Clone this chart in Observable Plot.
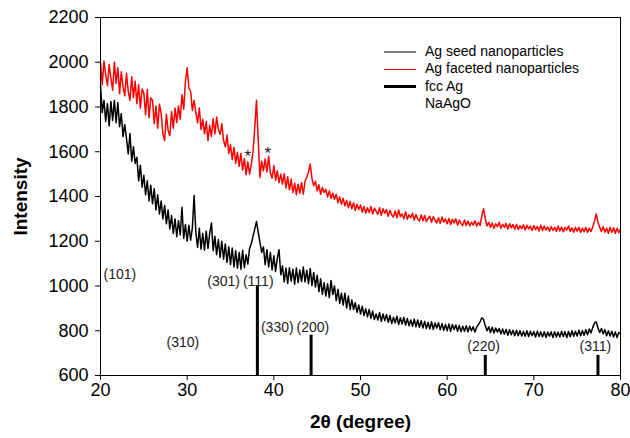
<!DOCTYPE html>
<html><head><meta charset="utf-8">
<script src="https://cdn.jsdelivr.net/npm/d3@7"></script>
<script src="https://cdn.jsdelivr.net/npm/@observablehq/plot@0.6"></script>
<style>
body{margin:0;background:#fff;font-family:"Liberation Sans",Arial,sans-serif;}
#wrap{position:relative;width:630px;height:438px;}
#legend{position:absolute;left:384px;top:43px;font-size:14px;color:#000;line-height:17.4px;}
#legend .row{height:17.4px;display:flex;align-items:center;white-space:nowrap;}
#legend .sw{width:32px;margin-right:9px;display:inline-block;}
g[aria-label="y-axis label"] text, g[aria-label="x-axis label"] text{font-weight:bold;font-size:19px;}
</style></head>
<body><div id="wrap"></div>
<script>
// 2θ grid: 20° to 80° in 0.2° steps (5 values per degree row below)
const angleStart = 20, angleStep = 0.2, angleCount = 301;

// Ag faceted nanoparticles (red)
const faceted = [
2000,1900,2005,1945,1895, 1990,1930,1875,2000,1905, 1975,1860,1958,1890,1850,
1950,1870,1830,1935,1842, 1915,1815,1900,1795,1880, 1862,1765,1878,1752,1840,
1830,1725,1805,1705,1812, 1772,1680,1650,1768,1695, 1672,1780,1705,1795,1730,
1805,1745,1855,1790,1915, 1975,1885,1870,1785,1830, 1775,1730,1795,1700,1745,
1680,1735,1650,1718,1668, 1748,1680,1755,1700,1678, 1725,1650,1622,1675,1592,
1632,1565,1620,1548,1598, 1535,1592,1518,1570,1498, 1555,1500,1545,1600,1710,
1830,1650,1485,1558,1515, 1568,1510,1580,1505,1482, 1538,1472,1515,1462,1500,
1455,1502,1438,1488,1430, 1478,1418,1460,1408,1455, 1415,1462,1410,1468,1485,
1510,1545,1480,1448,1468, 1425,1452,1410,1440,1418, 1432,1398,1425,1392,1415,
1388,1410,1372,1398,1365, 1392,1358,1382,1350,1378, 1345,1372,1338,1365,1342,
1362,1330,1355,1325,1350, 1328,1356,1322,1348,1335, 1320,1350,1316,1345,1325,
1342,1312,1338,1318,1308, 1335,1305,1340,1310,1322, 1300,1332,1298,1318,1305,
1325,1295,1320,1300,1290, 1318,1292,1315,1288,1302, 1312,1285,1310,1295,1282,
1305,1280,1308,1285,1300, 1278,1302,1275,1298,1282, 1300,1272,1295,1278,1270,
1295,1270,1290,1268,1285, 1272,1292,1268,1285,1270, 1315,1345,1300,1268,1285,
1262,1282,1258,1278,1265, 1285,1258,1276,1262,1280, 1255,1278,1260,1275,1254,
1276,1252,1270,1256,1274, 1250,1272,1255,1268,1248, 1270,1252,1266,1246,1272,
1248,1268,1250,1264,1245, 1266,1248,1262,1244,1268, 1246,1264,1242,1262,1250,
1268,1244,1260,1240,1262, 1245,1262,1240,1258,1243, 1262,1240,1258,1244,1265,
1290,1322,1285,1262,1244, 1265,1240,1258,1236,1262, 1240,1260,1235,1258,1238,
1255
];

// Ag seed nanoparticles (black)
const seed = [
1895,1775,1830,1735,1815, 1715,1825,1740,1830,1730, 1820,1712,1770,1668,1722,
1660,1590,1682,1558,1622, 1548,1575,1470,1540,1442, 1495,1408,1470,1380,1450,
1368,1435,1340,1408,1322, 1380,1300,1360,1278,1340, 1255,1315,1235,1300,1220,
1292,1228,1352,1212,1275, 1200,1272,1205,1260,1405, 1240,1172,1258,1165,1235,
1160,1245,1168,1235,1282, 1158,1222,1140,1208,1128, 1200,1120,1188,1105,1175,
1095,1170,1085,1158,1080, 1150,1075,1160,1082,1140, 1098,1168,1190,1222,1255,
1288,1240,1195,1150,1175, 1095,1162,1085,1150,1072, 1135,1065,1125,1162,1050,
1090,1018,1080,1012,1082, 1022,1075,1008,1080,1015, 1072,1020,1085,1018,1070,
1010,1078,1002,1060,995, 1048,975,1032,962,1015, 955,1010,948,1025,962,
1000,935,985,922,968, 915,968,902,955,895, 938,895,925,882,915,
875,910,868,898,862, 895,855,888,850,875, 848,882,842,875,845,
872,838,868,832,860, 835,865,828,858,830, 860,825,855,822,848,
820,852,818,848,815, 845,812,842,810,838, 808,840,806,835,812,
836,804,832,802,828, 800,830,798,828,805, 826,798,824,796,820,
798,822,795,820,800, 818,794,816,828,840, 858,850,822,800,818,
792,816,790,812,794, 810,786,808,784,806, 780,804,782,802,778,
802,778,800,776,798, 775,800,774,798,778, 796,772,798,774,795,
772,796,770,794,776, 795,770,796,772,794, 772,798,774,796,770,
797,773,800,775,798, 776,802,778,800,780, 805,782,808,790,815,
835,840,812,792,810, 786,805,778,800,776, 798,772,795,770,792,
785
];

// fcc Ag reference sticks
const stickAngles = [38.1, 44.3, 64.4, 77.4];
const stickHeights = [1000, 780, 690, 690];

// hkl labels
const hklLabels = ["(101)", "(301)", "(111)", "(330)", "(200)", "(310)", "(220)", "(311)"];
const hklAngles = [20.35, 34.2, 38.2, 40.4, 44.5, 29.5, 64.2, 77.1];
const hklValues = [1053, 1018, 1018, 813, 813, 746, 731, 731];
const hklAnchors = ["start", "middle", "middle", "middle", "middle", "middle", "middle", "middle"];

// NaAgO impurity markers
const starAngles = [37.0, 39.3];
const starValues = [1577, 1591];

const xTicks = [20, 30, 40, 50, 60, 70, 80];
const yTicks = [600, 800, 1000, 1200, 1400, 1600, 1800, 2000, 2200];

const angles = d3.range(angleCount).map(i => +(angleStart + i * angleStep).toFixed(2));
const facetedData = angles.map((a, i) => ({a, v: faceted[i]})).filter(d => d.v != null);
const seedData = angles.map((a, i) => ({a, v: seed[i]})).filter(d => d.v != null);
const sticks = stickAngles.map((a, i) => ({a, v: stickHeights[i]}));
const hkl = hklLabels.map((t, i) => ({t, a: hklAngles[i], v: hklValues[i], anchor: hklAnchors[i]}));
const stars = starAngles.map((a, i) => ({a, v: starValues[i]}));

const chart = Plot.plot({
  width: 630, height: 438,
  marginLeft: 100, marginRight: 10, marginTop: 17, marginBottom: 63,
  style: {fontFamily: "'Liberation Sans', Arial, sans-serif", fontSize: "18px", color: "#000", background: "#fff"},
  x: {domain: [20, 80]},
  y: {domain: [600, 2200]},
  marks: [
    Plot.lineY(facetedData, {x: "a", y: "v", stroke: "#ff0000", strokeWidth: 1.5}),
    Plot.lineY(seedData, {x: "a", y: "v", stroke: "#000", strokeWidth: 1.5}),
    Plot.ruleX(sticks, {x: "a", y1: 600, y2: "v", stroke: "#000", strokeWidth: 3}),
    Plot.text(hkl.filter(d => d.anchor === "start"), {x: "a", y: "v", text: "t", textAnchor: "start", fontSize: 14, fill: "#222"}),
    Plot.text(hkl.filter(d => d.anchor !== "start"), {x: "a", y: "v", text: "t", textAnchor: "middle", fontSize: 14, fill: "#222"}),
    Plot.text(stars, {x: "a", y: "v", text: () => "*", fontSize: 17, fill: "#222"}),
    Plot.axisX({ticks: xTicks, tickSize: 5, tickPadding: 3, fontSize: 18, tickFormat: d => String(d), label: "2θ (degree)", labelAnchor: "center", labelArrow: "none", labelOffset: 52}),
    Plot.axisY({ticks: yTicks, tickSize: 5, tickPadding: 7, fontSize: 18, tickFormat: d => String(d), label: "Intensity", labelAnchor: "center", labelArrow: "none", labelOffset: 87}),
    Plot.frame({stroke: "#000", strokeWidth: 1})
  ]
});
const wrap = document.getElementById("wrap");
wrap.appendChild(chart);

// legend
const legendItems = [
  {label: "Ag seed nanoparticles", color: "#7a7a7a", w: 2},
  {label: "Ag faceted nanoparticles", color: "#ff0000", w: 1},
  {label: "fcc Ag", color: "#000", w: 3.5},
  {label: "NaAgO", color: null, w: 0}
];
const leg = document.createElement("div");
leg.id = "legend";
for (const it of legendItems) {
  const row = document.createElement("div");
  row.className = "row";
  const sw = document.createElement("span");
  sw.className = "sw";
  if (it.color) { sw.style.height = it.w + "px"; sw.style.background = it.color; }
  const tx = document.createElement("span");
  tx.textContent = it.label;
  row.appendChild(sw); row.appendChild(tx);
  leg.appendChild(row);
}
wrap.appendChild(leg);
</script>
</body></html>
